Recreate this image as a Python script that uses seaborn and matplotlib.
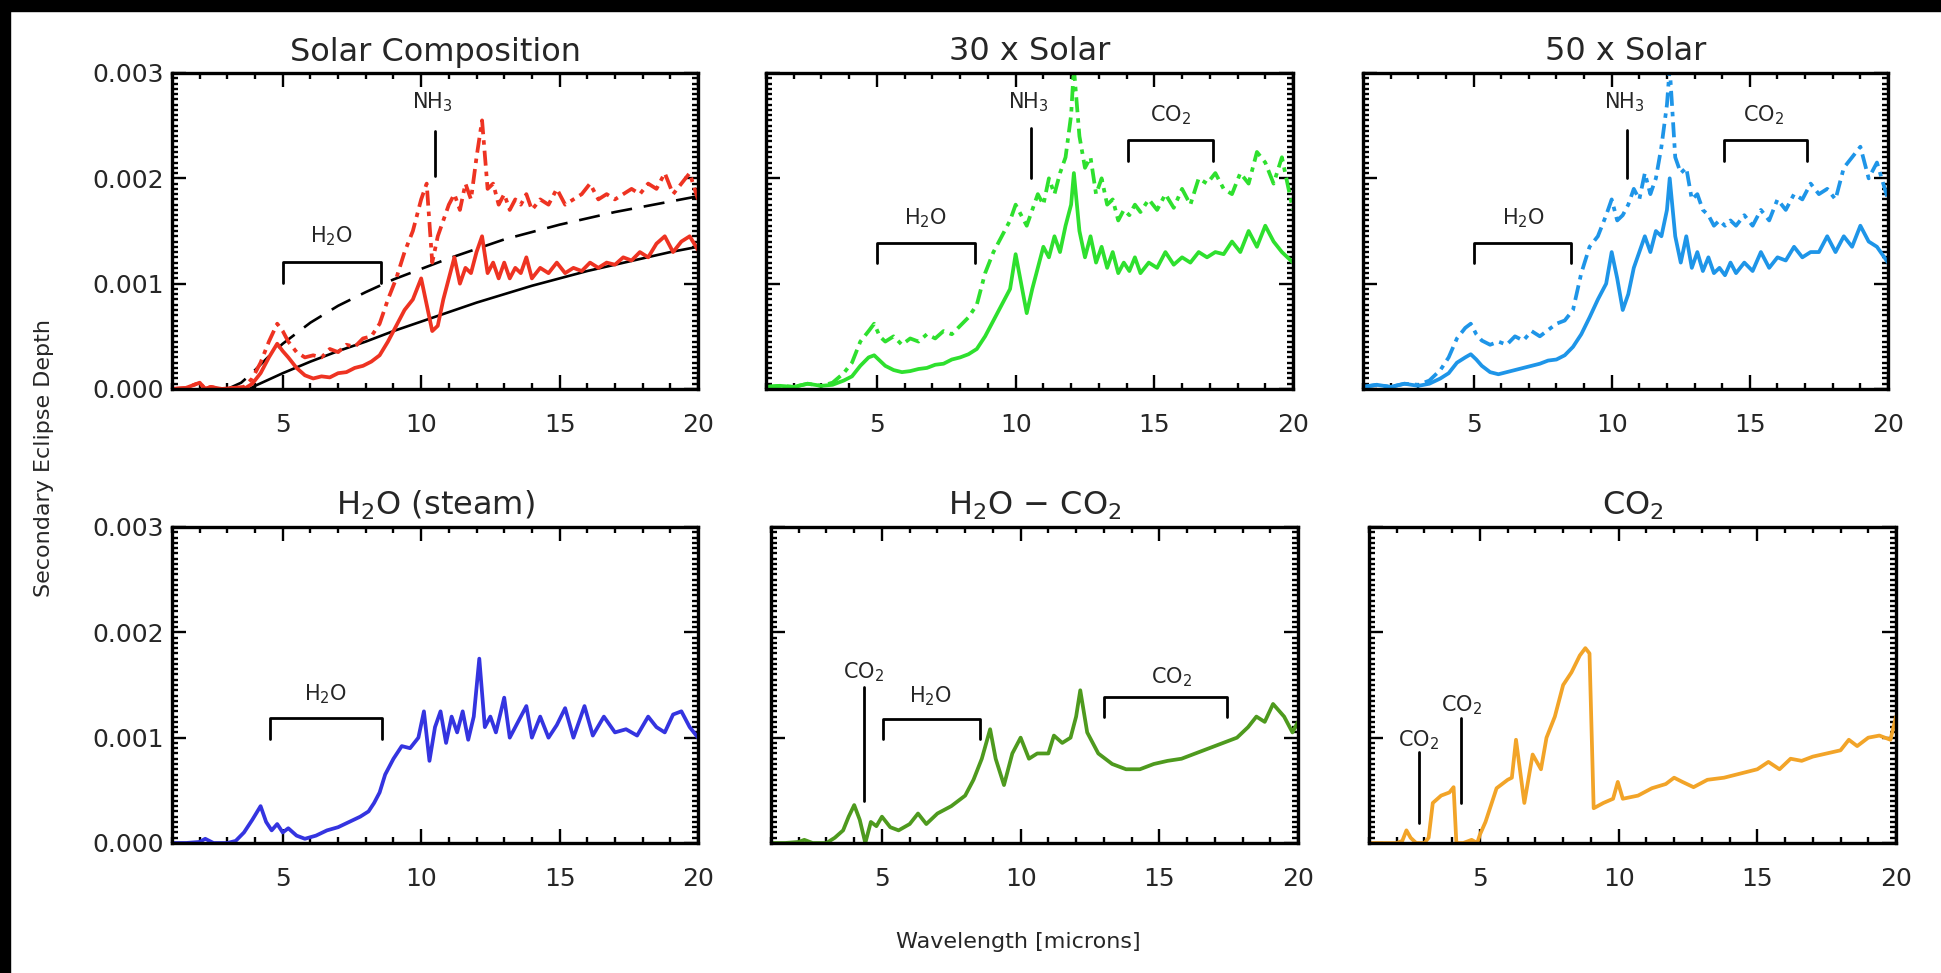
import numpy as np
import pandas as pd
import matplotlib
matplotlib.use('Agg')
import matplotlib.pyplot as plt
from matplotlib.ticker import MultipleLocator, FormatStrFormatter
from matplotlib.patches import Rectangle
import seaborn as sns

# wavelengths in microns, eclipse depths in units of 1e-3
solar_wl = [1.0, 1.5, 2.0, 2.2, 2.4, 2.8, 3.2, 3.6, 3.9, 4.2,
            4.5, 4.8, 5.0, 5.2, 5.5, 5.8, 6.1, 6.4, 6.7, 7.0,
            7.3, 7.6, 7.9, 8.2, 8.5, 8.8, 9.1, 9.4, 9.7, 10.0,
            10.2, 10.4, 10.6, 10.8, 11.0, 11.2, 11.4, 11.6, 11.8, 12.0,
            12.2, 12.4, 12.6, 12.8, 13.0, 13.2, 13.4, 13.6, 13.8, 14.0,
            14.3, 14.6, 14.9, 15.2, 15.5, 15.8, 16.1, 16.4, 16.7, 17.0,
            17.3, 17.6, 17.9, 18.2, 18.5, 18.8, 19.1, 19.4, 19.7, 20.0]
solar_lo = [0.0, 0.01, 0.06, 0.0, 0.02, 0.0, 0.01, 0.0, 0.05, 0.15,
            0.3, 0.43, 0.36, 0.3, 0.2, 0.13, 0.1, 0.12, 0.11, 0.15,
            0.16, 0.2, 0.22, 0.26, 0.32, 0.45, 0.6, 0.75, 0.85, 1.05,
            0.8, 0.55, 0.6, 0.85, 1.05, 1.25, 1.0, 1.15, 1.1, 1.3,
            1.45, 1.1, 1.2, 1.05, 1.2, 1.05, 1.15, 1.1, 1.25, 1.05,
            1.15, 1.1, 1.2, 1.1, 1.15, 1.12, 1.2, 1.15, 1.2, 1.18,
            1.25, 1.22, 1.3, 1.25, 1.38, 1.45, 1.3, 1.4, 1.45, 1.32]
solar_hi = [0.0, 0.01, 0.06, 0.0, 0.02, 0.0, 0.01, 0.02, 0.1, 0.25,
            0.45, 0.62, 0.55, 0.45, 0.35, 0.3, 0.32, 0.3, 0.38, 0.35,
            0.42, 0.4, 0.48, 0.5, 0.62, 0.85, 1.05, 1.3, 1.5, 1.8,
            1.95, 1.2, 1.45, 1.6, 1.75, 1.85, 1.7, 1.95, 1.8, 2.2,
            2.55, 1.9, 1.95, 1.75, 1.85, 1.7, 1.8, 1.75, 1.85, 1.7,
            1.8, 1.75, 1.9, 1.75, 1.8, 1.85, 1.95, 1.8, 1.85, 1.8,
            1.85, 1.9, 1.85, 1.95, 1.9, 2.05, 1.85, 1.95, 2.05, 1.8]
bb_wl = [3.0, 3.5, 3.8, 4.0, 4.5, 5.0, 6.0, 7.0, 8.0, 9.0,
         10.0, 11.0, 12.0, 13.0, 14.0, 15.0, 16.0, 17.0, 18.0, 19.0, 20.0]
bb_lo = [0.0, 0.0, 0.0, 0.03, 0.09, 0.15, 0.26, 0.36, 0.45, 0.55,
         0.64, 0.73, 0.82, 0.9, 0.98, 1.05, 1.12, 1.18, 1.24, 1.3, 1.35]
bb_hi = [0.0, 0.06, 0.13, 0.18, 0.31, 0.43, 0.63, 0.79, 0.92, 1.04,
         1.14, 1.24, 1.33, 1.42, 1.49, 1.56, 1.62, 1.68, 1.73, 1.78, 1.83]

enh_wl = [1.0, 1.5, 2.0, 2.5, 3.0, 3.4, 3.8, 4.1, 4.4, 4.7,
          4.9, 5.1, 5.3, 5.6, 5.9, 6.2, 6.5, 6.8, 7.1, 7.4,
          7.7, 8.0, 8.3, 8.6, 8.9, 9.2, 9.5, 9.8, 10.0, 10.2,
          10.4, 10.6, 10.8, 11.0, 11.2, 11.4, 11.6, 11.8, 12.0, 12.1,
          12.3, 12.5, 12.7, 12.9, 13.1, 13.3, 13.5, 13.7, 13.9, 14.1,
          14.3, 14.5, 14.8, 15.1, 15.4, 15.7, 16.0, 16.3, 16.6, 16.9,
          17.2, 17.5, 17.8, 18.1, 18.4, 18.7, 19.0, 19.3, 19.6, 20.0]
x30_lo = [0.02, 0.03, 0.02, 0.05, 0.03, 0.04, 0.08, 0.12, 0.22, 0.3,
          0.32, 0.27, 0.22, 0.18, 0.16, 0.17, 0.19, 0.2, 0.23, 0.24,
          0.28, 0.3, 0.33, 0.38, 0.5, 0.65, 0.8, 0.95, 1.28, 1.0,
          0.72, 0.95, 1.15, 1.35, 1.25, 1.45, 1.3, 1.55, 1.75, 2.05,
          1.5, 1.25, 1.45, 1.2, 1.35, 1.15, 1.3, 1.1, 1.2, 1.12,
          1.25, 1.1, 1.2, 1.15, 1.3, 1.18, 1.25, 1.2, 1.3, 1.25,
          1.3, 1.28, 1.4, 1.3, 1.5, 1.35, 1.55, 1.4, 1.3, 1.2]
x30_hi = [0.02, 0.03, 0.02, 0.05, 0.03, 0.06, 0.15, 0.25, 0.45, 0.55,
          0.62, 0.5, 0.45, 0.5, 0.42, 0.48, 0.45, 0.52, 0.48, 0.55,
          0.52, 0.6, 0.68, 0.8, 1.1, 1.3, 1.45, 1.6, 1.75, 1.65,
          1.55, 1.7, 1.85, 1.75, 2.0, 1.85, 2.05, 2.2, 2.6, 3.05,
          2.4, 2.1, 2.2, 1.85, 2.0, 1.75, 1.8, 1.6, 1.7, 1.65,
          1.75, 1.68, 1.8, 1.7, 1.85, 1.72, 1.9, 1.75, 2.0, 1.95,
          2.05, 1.9, 1.85, 2.05, 1.95, 2.25, 2.15, 1.95, 2.2, 1.7]
x50_lo = [0.02, 0.04, 0.02, 0.05, 0.03, 0.05, 0.1, 0.15, 0.25, 0.3,
          0.33, 0.28, 0.22, 0.16, 0.14, 0.16, 0.18, 0.2, 0.22, 0.24,
          0.27, 0.28, 0.32, 0.4, 0.52, 0.68, 0.85, 1.0, 1.3, 1.05,
          0.75, 0.9, 1.15, 1.3, 1.45, 1.3, 1.5, 1.45, 1.7, 2.0,
          1.45, 1.2, 1.45, 1.15, 1.3, 1.12, 1.25, 1.1, 1.15, 1.08,
          1.2, 1.1, 1.2, 1.12, 1.3, 1.15, 1.25, 1.22, 1.35, 1.25,
          1.3, 1.3, 1.45, 1.3, 1.45, 1.35, 1.55, 1.4, 1.35, 1.2]
x50_hi = [0.02, 0.04, 0.02, 0.05, 0.04, 0.08, 0.18, 0.3, 0.48, 0.58,
          0.62, 0.52, 0.46, 0.42, 0.45, 0.42, 0.5, 0.46, 0.55, 0.5,
          0.56, 0.62, 0.65, 0.75, 1.1, 1.35, 1.45, 1.65, 1.8, 1.6,
          1.65, 1.75, 1.9, 1.8, 2.05, 1.85, 2.0, 2.3, 2.7, 3.05,
          2.2, 2.05, 2.1, 1.8, 1.85, 1.7, 1.65, 1.55, 1.6, 1.55,
          1.6, 1.55, 1.65, 1.55, 1.7, 1.6, 1.8, 1.7, 1.85, 1.8,
          1.95, 1.85, 1.9, 1.8, 2.1, 2.2, 2.3, 2.0, 2.15, 1.8]

steam_wl = [1.0, 1.5, 2.0, 2.2, 2.5, 3.0, 3.3, 3.6, 3.9, 4.2,
            4.4, 4.6, 4.8, 5.0, 5.2, 5.5, 5.8, 6.2, 6.6, 7.0,
            7.4, 7.8, 8.1, 8.3, 8.5, 8.7, 9.0, 9.3, 9.6, 9.9,
            10.1, 10.3, 10.5, 10.7, 10.9, 11.1, 11.3, 11.5, 11.7, 11.9,
            12.1, 12.3, 12.5, 12.7, 13.0, 13.2, 13.5, 13.8, 14.0, 14.3,
            14.6, 14.9, 15.2, 15.5, 15.9, 16.2, 16.6, 17.0, 17.4, 17.8,
            18.2, 18.5, 18.8, 19.1, 19.4, 19.7, 20.0]
steam = [0.0, 0.0, 0.01, 0.04, 0.0, 0.0, 0.02, 0.1, 0.22, 0.35,
         0.2, 0.12, 0.18, 0.1, 0.14, 0.07, 0.04, 0.07, 0.12, 0.15,
         0.2, 0.25, 0.3, 0.38, 0.48, 0.65, 0.8, 0.92, 0.9, 1.0,
         1.25, 0.78, 1.1, 1.25, 0.95, 1.2, 1.05, 1.25, 0.98, 1.2,
         1.75, 1.1, 1.2, 1.05, 1.38, 1.0, 1.15, 1.3, 1.0, 1.2,
         1.0, 1.12, 1.28, 1.0, 1.3, 1.02, 1.2, 1.05, 1.08, 1.02,
         1.2, 1.1, 1.05, 1.22, 1.25, 1.1, 1.0]

mix_wl = [1.0, 1.5, 2.0, 2.2, 2.5, 3.0, 3.3, 3.6, 3.8, 4.0,
          4.2, 4.4, 4.6, 4.8, 5.0, 5.3, 5.6, 6.0, 6.3, 6.6,
          7.0, 7.5, 8.0, 8.3, 8.6, 8.9, 9.1, 9.4, 9.7, 10.0,
          10.3, 10.6, 11.0, 11.2, 11.5, 11.8, 12.0, 12.15, 12.4, 12.8,
          13.3, 13.8, 14.3, 14.8, 15.3, 15.8, 16.3, 16.8, 17.3, 17.8,
          18.2, 18.5, 18.8, 19.1, 19.5, 19.8, 20.0]
mix = [0.0, 0.0, 0.01, 0.03, 0.0, 0.0, 0.05, 0.12, 0.25, 0.36,
       0.22, 0.0, 0.2, 0.16, 0.25, 0.15, 0.12, 0.18, 0.28, 0.18,
       0.28, 0.35, 0.45, 0.6, 0.8, 1.08, 0.8, 0.55, 0.85, 1.0,
       0.8, 0.85, 0.85, 1.02, 0.95, 1.0, 1.2, 1.45, 1.05, 0.85,
       0.75, 0.7, 0.7, 0.75, 0.78, 0.8, 0.85, 0.9, 0.95, 1.0,
       1.1, 1.2, 1.15, 1.32, 1.2, 1.05, 1.15]

co2_wl = [1.0, 1.5, 2.0, 2.2, 2.35, 2.5, 2.7, 3.0, 3.15, 3.3,
          3.6, 3.9, 4.05, 4.15, 4.4, 4.7, 4.9, 5.0, 5.2, 5.6,
          6.0, 6.15, 6.3, 6.6, 6.9, 7.2, 7.4, 7.7, 8.0, 8.3,
          8.6, 8.8, 8.95, 9.1, 9.45, 9.8, 9.97, 10.15, 10.7, 11.2,
          11.7, 12.0, 12.3, 12.7, 13.2, 13.8, 14.4, 15.0, 15.4, 15.8,
          16.2, 16.6, 17.0, 17.5, 18.0, 18.3, 18.6, 19.0, 19.4, 19.8, 20.0]
co2 = [0.0, 0.0, 0.0, 0.02, 0.12, 0.05, 0.0, 0.0, 0.05, 0.38,
       0.45, 0.48, 0.53, 0.0, 0.0, 0.03, 0.0, 0.08, 0.2, 0.52,
       0.6, 0.62, 0.98, 0.38, 0.84, 0.7, 1.0, 1.2, 1.5, 1.62,
       1.78, 1.85, 1.8, 0.33, 0.38, 0.42, 0.58, 0.42, 0.45, 0.52,
       0.56, 0.62, 0.58, 0.53, 0.6, 0.62, 0.66, 0.7, 0.77, 0.7,
       0.8, 0.78, 0.82, 0.85, 0.88, 0.98, 0.92, 1.0, 1.02, 0.98, 1.2]

titles = ['Solar Composition', '30 x Solar', '50 x Solar',
          'H$_2$O (steam)', 'H$_2$O $-$ CO$_2$', 'CO$_2$']

sns.set_style('ticks')
plt.rcParams['font.family'] = ['DejaVu Sans']
plt.rcParams['mathtext.default'] = 'regular'

W, H = 1941, 973
fig = plt.figure(figsize=(W/100, H/100), dpi=100)
boxes = [(172, 73, 698, 389), (766, 73, 1293, 389), (1363, 73, 1888, 389),
         (172, 527, 698, 843), (771, 527, 1298, 843), (1369, 527, 1896, 843)]
axes = [fig.add_axes([l/W, 1-b/H, (r-l)/W, (b-t)/H]) for l, t, r, b in boxes]


def series(ax, wl, depth, color, ls='-', lw=2.7):
    d = pd.DataFrame({'wl': wl, 'depth': np.array(depth)*1e-3})
    sns.lineplot(data=d, x='wl', y='depth', color=color, lw=lw, estimator=None, ax=ax)
    ax.lines[-1].set_linestyle(ls)


def mark(ax, x, y0, y1, label, lx, ly):
    ax.plot([x, x], [y0*1e-3, y1*1e-3], color='black', lw=2)
    ax.text(lx, ly*1e-3, label, ha='center', va='center', fontsize=15)


def br(ax, x0, x1, top, low, label, lx, ly):
    ax.plot([x0, x0, x1, x1], np.array([low, top, top, low])*1e-3, color='black', lw=2)
    ax.text(lx, ly*1e-3, label, ha='center', va='center', fontsize=15)


red, grn, blu = '#EE3322', '#2EE02E', '#1E95E8'
a1, a2, a3, a4, a5, a6 = axes
dashdot = (0, (4, 1.6, 1.2, 1.6))

series(a1, bb_wl, bb_lo, 'black', '-', 1.9)
series(a1, bb_wl, bb_hi, 'black', (0, (8, 4.5)), 1.9)
series(a1, solar_wl, solar_lo, red)
series(a1, solar_wl, solar_hi, red, dashdot)
series(a2, enh_wl, x30_lo, grn)
series(a2, enh_wl, x30_hi, grn, dashdot)
series(a3, enh_wl, x50_lo, blu)
series(a3, enh_wl, x50_hi, blu, dashdot)
series(a4, steam_wl, steam, '#3434E0')
series(a5, mix_wl, mix, '#4E9A1E')
series(a6, co2_wl, co2, '#F2A428')

h2o, nh3, c2 = 'H$_2$O', 'NH$_3$', 'CO$_2$'
br(a1, 5.0, 8.55, 1.21, 1.01, h2o, 6.75, 1.45)
mark(a1, 10.5, 2.02, 2.45, nh3, 10.4, 2.72)
br(a2, 5.0, 8.55, 1.39, 1.2, h2o, 6.75, 1.62)
mark(a2, 10.55, 2.0, 2.48, nh3, 10.45, 2.72)
br(a2, 14.05, 17.1, 2.36, 2.16, c2, 15.6, 2.6)
br(a3, 5.0, 8.52, 1.39, 1.2, h2o, 6.8, 1.62)
mark(a3, 10.55, 2.0, 2.46, nh3, 10.45, 2.72)
br(a3, 14.05, 17.08, 2.36, 2.16, c2, 15.5, 2.6)
br(a4, 4.55, 8.6, 1.19, 0.99, h2o, 6.55, 1.41)
mark(a5, 4.35, 0.4, 1.48, c2, 4.33, 1.62)
br(a5, 5.05, 8.55, 1.18, 0.99, h2o, 6.75, 1.39)
br(a5, 13.0, 17.45, 1.39, 1.2, c2, 15.45, 1.57)
mark(a6, 2.82, 0.19, 0.86, c2, 2.78, 0.98)
mark(a6, 4.3, 0.38, 1.19, c2, 4.35, 1.31)

for i, (ax, t) in enumerate(zip(axes, titles)):
    ax.set_xlim(1, 20)
    ax.set_ylim(0, 0.003)
    ax.xaxis.set_major_locator(MultipleLocator(5))
    ax.xaxis.set_minor_locator(MultipleLocator(1))
    ax.yaxis.set_major_locator(MultipleLocator(0.001))
    ax.yaxis.set_minor_locator(MultipleLocator(0.00005))
    ax.yaxis.set_major_formatter(FormatStrFormatter('%.3f'))
    ax.tick_params(which='both', direction='in', top=True, right=True, width=1.7, color='black')
    ax.tick_params(which='major', length=10, labelsize=18)
    ax.tick_params(which='minor', length=4)
    ax.tick_params(axis='x', pad=17)
    ax.tick_params(axis='y', pad=6, labelleft=(i % 3 == 0))
    ax.set_xlabel('')
    ax.set_ylabel('')
    for s in ax.spines.values():
        s.set_linewidth(2.4)
        s.set_color('black')
    ax.set_title(t, fontsize=23, pad=9)

fig.text(1018/W, 1-942/H, 'Wavelength [microns]', ha='center', va='center', fontsize=16)
fig.text(44/W, 1-458/H, 'Secondary Eclipse Depth', ha='center', va='center', rotation=90, fontsize=16)

fig.patches.extend([
    Rectangle((0, 1-11/H), 1, 11/H, transform=fig.transFigure, color='black', zorder=0),
    Rectangle((0, 0), 10/W, 1, transform=fig.transFigure, color='black', zorder=0),
])

fig.savefig('out.png', dpi=100, facecolor='white')
